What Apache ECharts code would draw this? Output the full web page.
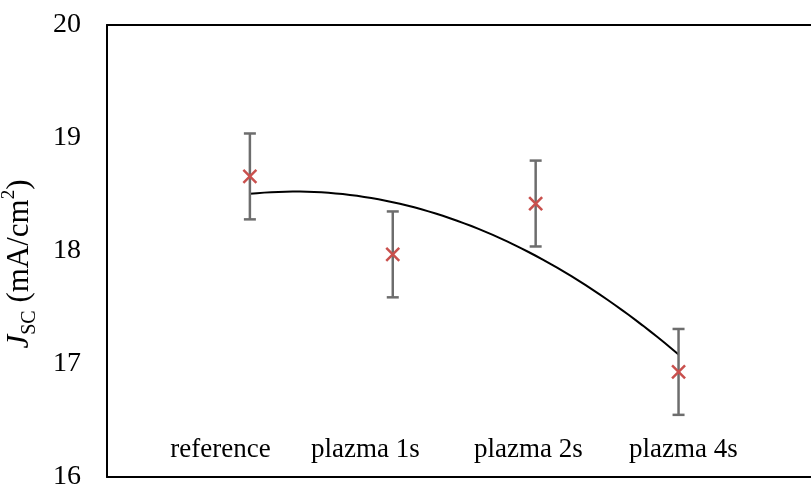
<!DOCTYPE html>
<html>
<head>
<meta charset="utf-8">
<script src="https://cdn.jsdelivr.net/npm/echarts@6/dist/echarts.min.js"></script>
<style>html,body{margin:0;padding:0;background:#fff}#c{width:811px;height:488px}</style>
</head>
<body>
<div id="c"></div>
<script>
// Data
const categories = ['reference', 'plazma 1s', 'plazma 2s', 'plazma 4s'];
const xPositions = [1, 2, 3, 4];
const jscValues = [18.66, 17.97, 18.42, 16.93];
const errValues = [0.38, 0.38, 0.38, 0.38];
const labelPositions = [0.794, 1.808, 2.949, 4.034];
const yTicks = [16, 17, 18, 19, 20];

// quadratic least-squares trendline (as the spreadsheet trendline)
function quadFit(xs, ys) {
  let n = xs.length, S = [0,0,0,0,0], T = [0,0,0];
  for (let i = 0; i < n; i++) {
    let p = 1;
    for (let k = 0; k < 5; k++) { S[k] += p; if (k < 3) T[k] += p * ys[i]; p *= xs[i]; }
  }
  const A = [[S[0],S[1],S[2],T[0]],[S[1],S[2],S[3],T[1]],[S[2],S[3],S[4],T[2]]];
  for (let i = 0; i < 3; i++) {
    for (let j = i + 1; j < 3; j++) {
      const f = A[j][i] / A[i][i];
      for (let k = i; k < 4; k++) A[j][k] -= f * A[i][k];
    }
  }
  const c = [0,0,0];
  for (let i = 2; i >= 0; i--) {
    let s = A[i][3];
    for (let k = i + 1; k < 3; k++) s -= A[i][k] * c[k];
    c[i] = s / A[i][i];
  }
  return c;
}
const coef = quadFit(xPositions, jscValues);
const trend = [];
for (let i = 0; i <= 60; i++) {
  const x = 1 + 3 * i / 60;
  trend.push([x, coef[0] + coef[1] * x + coef[2] * x * x]);
}

const serif = '"Liberation Serif", "DejaVu Serif", serif';
const chart = echarts.init(document.getElementById('c'));
chart.setOption({
  animation: false,
  backgroundColor: '#fff',
  grid: { left: 107, right: 0, top: 25, bottom: 11, containLabel: false, outerBoundsMode: 'none' },
  xAxis: [{
    type: 'value', min: 0, max: 4.927,
    axisLine: { show: true, onZero: false, lineStyle: { color: '#000', width: 2 } },
    axisTick: { show: false },
    splitLine: { show: false },
    axisLabel: {
      customValues: labelPositions,
      inside: true, margin: 14,
      color: '#000', fontFamily: serif, fontSize: 27,
      formatter: function (v) {
        let best = 0;
        for (let i = 1; i < labelPositions.length; i++)
          if (Math.abs(labelPositions[i] - v) < Math.abs(labelPositions[best] - v)) best = i;
        return categories[best];
      }
    }
  }, {
    type: 'value', min: 0, max: 4.927, position: 'top',
    axisLine: { show: true, onZero: false, lineStyle: { color: '#000', width: 2 } },
    axisTick: { show: false }, axisLabel: { show: false }, splitLine: { show: false }
  }],
  yAxis: {
    type: 'value', min: 16, max: 20, interval: 1,
    axisLine: { show: true, onZero: false, lineStyle: { color: '#000', width: 2 } },
    axisTick: { show: false },
    splitLine: { show: false },
    axisLabel: { margin: 26, color: '#000', fontFamily: serif, fontSize: 28 },
    name: '{i|J}{sub|SC}{n| (mA/cm}{sup|2}{n|)}',
    nameLocation: 'middle', nameRotate: 90, nameGap: 67,
    nameTextStyle: {
      color: '#000', fontFamily: serif, fontSize: 31, padding: [0, 26, 0, 0],
      rich: {
        i: { fontFamily: serif, fontSize: 31, fontStyle: 'italic', color: '#000', lineHeight: 40, verticalAlign: 'middle' },
        n: { fontFamily: serif, fontSize: 31, color: '#000', lineHeight: 40, verticalAlign: 'middle' },
        sub: { fontFamily: serif, fontSize: 20, color: '#000', lineHeight: 40, verticalAlign: 'bottom' },
        sup: { fontFamily: serif, fontSize: 19, color: '#000', lineHeight: 40, verticalAlign: 'top' }
      }
    }
  },
  series: [{
    type: 'line', data: trend, showSymbol: false, smooth: false,
    lineStyle: { color: '#000', width: 2 }, z: 2, silent: true
  }, {
    type: 'custom',
    data: xPositions.map((x, i) => [x, jscValues[i], errValues[i]]),
    renderItem: function (params, api) {
      const x = api.value(0), y = api.value(1), e = api.value(2);
      const p = api.coord([x, y]);
      const top = api.coord([x, y + e]);
      const bot = api.coord([x, y - e]);
      const cap = 6, m = 6.5;
      const gray = { stroke: '#6d6d6d', lineWidth: 2.5 };
      const red = { stroke: '#c9504d', lineWidth: 2.5 };
      return {
        type: 'group',
        children: [
          { type: 'line', shape: { x1: top[0], y1: top[1], x2: bot[0], y2: bot[1] }, style: gray },
          { type: 'line', shape: { x1: top[0] - cap, y1: top[1], x2: top[0] + cap, y2: top[1] }, style: gray },
          { type: 'line', shape: { x1: bot[0] - cap, y1: bot[1], x2: bot[0] + cap, y2: bot[1] }, style: gray },
          { type: 'line', shape: { x1: p[0] - m, y1: p[1] - m, x2: p[0] + m, y2: p[1] + m }, style: red },
          { type: 'line', shape: { x1: p[0] - m, y1: p[1] + m, x2: p[0] + m, y2: p[1] - m }, style: red }
        ]
      };
    },
    z: 3
  }]
});
</script>
</body>
</html>
